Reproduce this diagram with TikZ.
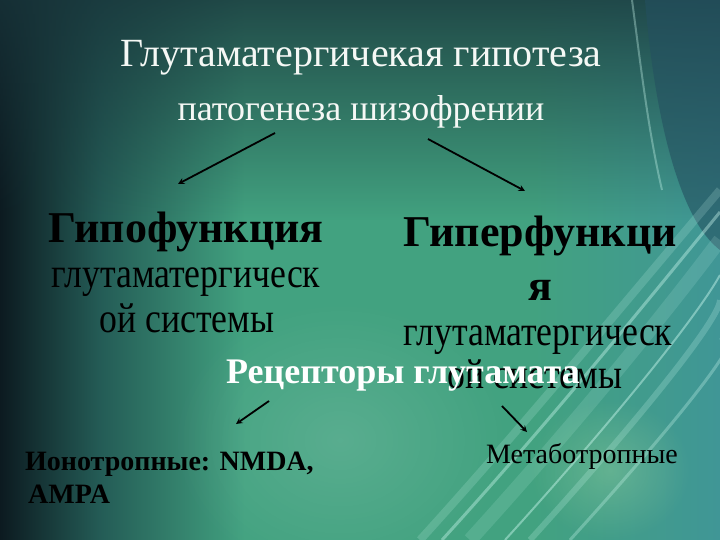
\documentclass[tikz,border=0pt]{standalone}
\usepackage{fontspec}
\setmainfont{Liberation Serif}
\newfontfamily\tallfont{Liberation Serif}[FakeStretch=0.85]
\usetikzlibrary{arrows,fadings}

\definecolor{bgdark}{RGB}{12,26,32}
\definecolor{bgleft}{RGB}{36,92,86}
\definecolor{bgmid}{RGB}{66,162,128}
\definecolor{bgright}{RGB}{64,150,150}
\definecolor{bgtop}{RGB}{24,52,58}
\definecolor{bgcorner}{RGB}{36,80,96}
\definecolor{streak}{RGB}{205,250,240}
\definecolor{glow}{RGB}{200,240,170}
\definecolor{headwhite}{RGB}{245,248,245}

\pgfdeclarehorizontalshading{slidebg}{100bp}{color(0bp)=(bgdark); color(25bp)=(bgdark);
  color(32bp)=(bgleft); color(42bp)=(bgmid); color(62bp)=(bgmid); color(75bp)=(bgright); color(100bp)=(bgright)}
\tikzfading[name=fadedown, top color=transparent!20, bottom color=transparent!100]
\tikzfading[name=softspot, inner color=transparent!0, outer color=transparent!100]

\begin{document}
\begin{tikzpicture}[
            x = 1pt, y = -1pt, % pixel grid of the slide
            > = stealth, % arrow head style
            every node/.style = {inner sep=0pt},
            head/.style = {text=headwhite, font=\fontsize{40}{44}\selectfont, anchor=base},
            subhead/.style = {text=headwhite, font=\fontsize{36}{40}\selectfont, anchor=base},
            bigbold/.style = {text=black, font=\bfseries\fontsize{44}{48}\selectfont, anchor=base},
            plain/.style = {text=black, font=\tallfont\fontsize{42}{46}\selectfont, anchor=base},
            receptor/.style = {text=white, font=\bfseries\fontsize{36}{40}\selectfont, anchor=base},
            smallbold/.style = {text=black, font=\bfseries\fontsize{28}{30}\selectfont, anchor=base west},
            smallplain/.style = {text=black, font=\fontsize{28}{30}\selectfont, anchor=base},
            link/.style = {->, black, line width=1.8pt}
        ]
	\useasboundingbox (0,0) rectangle (720,540);

	% background of the slide
	\begin{scope}
	\clip (0,0) rectangle (720,540);
	\shade[shading=slidebg] (0,0) rectangle (720,540);
	\fill[bgtop, path fading=fadedown] (0,0) rectangle (720,220);
	\fill[white, opacity=0.12, path fading=softspot] (340,440) ellipse (170 and 140);
	\fill[glow, opacity=0.25, path fading=softspot] (610,470) ellipse (80 and 70);
	\fill[bgcorner, opacity=0.6] (645,0) .. controls (655,120) and (680,220) .. (720,250) -- (720,0) -- cycle;
	\foreach \s/\w/\o in {0/8/0.18, 22/3/0.4, 50/14/0.14, 85/2/0.45, 110/6/0.22, 150/3/0.3} {
		\draw[streak, line width=\w pt, opacity=\o]
			(420+\s,540) .. controls (520+\s,430) and (610+\s,320) .. (720,190+\s);
	}
	\draw[streak, line width=2pt, opacity=0.35] (632,0) .. controls (640,60) and (648,130) .. (662,190);
	\end{scope}

	% title
	\node[head] (title) at (361,67) {Глутаматергичекая гипотеза};
	\node[subhead] (subtitle) at (361,121) {патогенеза шизофрении};

	% two branches
	\node[bigbold] (hypo) at (186,242) {Гипофункция};
	\node[plain] (hypo2) at (186,287) {глутаматергическ};
	\node[plain] (hypo3) at (187,332) {ой системы};

	\node[bigbold] (hyper) at (540,247) {Гиперфункци};
	\node[bigbold] (hyper2) at (540,300) {я};
	\node[plain] (hyper3) at (538,345) {глутаматергическ};
	\node[plain] (hyper4) at (535,388) {ой системы};

	% receptors
	\node[receptor] (rec) at (403,383) {Рецепторы глутамата};
	\node[smallbold] (iono) at (25,470) {Ионотропные: NMDA,};
	\node[smallbold] (iono2) at (28,503) {AMPA};
	\node[smallplain] (meta) at (582,463) {Метаботропные};

	% arrow ends
	\coordinate (a1) at (275,133);
	\coordinate (b1) at (178,184);
	\coordinate (a2) at (428,139);
	\coordinate (b2) at (525,191);
	\coordinate (a3) at (269,401);
	\coordinate (b3) at (236,424);
	\coordinate (a4) at (502,406);
	\coordinate (b4) at (527,432);

	\draw[link] (a1) -- (b1);
	\draw[link] (a2) -- (b2);
	\draw[link] (a3) -- (b3);
	\draw[link] (a4) -- (b4);

\end{tikzpicture}
\end{document}
